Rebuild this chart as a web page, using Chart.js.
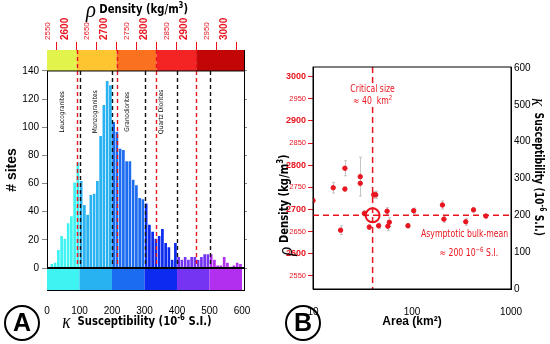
<!DOCTYPE html>
<html>
<head>
<meta charset="utf-8">
<script src="https://cdn.jsdelivr.net/npm/chart.js@4.4.1/dist/chart.umd.min.js"></script>
<style>
  html, body { margin: 0; padding: 0; background: #fff; }
  #wrap { position: relative; width: 550px; height: 344px; }
  #chartA { position: absolute; left: 0; top: 0; }
  #chartB { position: absolute; left: 275px; top: 0; }
</style>
</head>
<body>
<div id="wrap">
  <canvas id="chartA" width="275" height="344"></canvas>
  <canvas id="chartB" width="275" height="344"></canvas>
</div>
<script>
// ---------- panel A : susceptibility histogram ----------
const binCenters = [5,15,25,35,45,55,65,75,85,95,105,115,125,135,145,155,165,175,185,195,
  205,215,225,235,245,255,265,275,285,295,305,315,325,335,345,355,365,375,385,395,
  405,415,425,435,445,455,465,475,485,495,505,515,525,535,545,555,565,575,585,595];
const siteCounts = [0,3,4,13,23,21,32,37,61,75,
  62,45,38,52,53,62,94,116,133,130,
  104,97,85,84,76,76,63,59,50,49,
  46,31,26,21,23,28,18,15,6,18,
  8,6,8,6,8,8,6,8,10,10,
  10,6,2,2,8,4,1,2,4,3];
const siteTicks = [0,20,40,60,80,100,120,140];
const kappaTicks = [0,100,200,300,400,500,600];
const densityTicks = [2550,2600,2650,2700,2750,2800,2850,2900,2950,3000];
const kappaBandEdges = [0,100,200,300,400,500,600];
const kappaBandColors = ['#3ff3f3','#28b2f2','#1b6cf0','#0b2bef','#7434f2','#b22ff0'];
const densityBandEdges = [2525,2600,2700,2800,2900,3020];
const densityBandColors = ['#e2f44c','#fdc530','#fa7220','#f52424','#c20606'];
const kappaDashes = [100,200,300,400,500];
const densityDashes = [2600,2700,2800,2900];
const rockNames = ['Leucogranites','Monzogranites','Granodiorites','Quartz Diorites'];
const rockKappa = [46,148,246,351];

// ---------- panel B : density vs area ----------
const plutonArea = [10,16,21,21,30,30,41,43,33,37,46,56,59,57,19,91,104,203,210,349,418,557];
const plutonDensity = [2720,2749,2793,2746,2774,2759,2733,2733,2691,2660,2663,2696,2671,2662,2653,2663,2697,2710,2678,2672,2699,2685];
const densityErr = [5,12,17,4,44,0,8,8,6,5,6,8,10,10,10,5,6,9,7,8,5,4];
const areaTicks = [10,100,1000];
const kappaTicksB = [0,100,200,300,400,500,600];
const criticalArea = 40;
const bulkMeanKappa = 200;

// pick a narrow sans if one is installed, otherwise squeeze drawn text a bit
function hasFont(name) {
  const c = document.createElement('canvas').getContext('2d');
  const s = 'abcdefghijklmnopqrstuvwxyz0123456789';
  c.font = '20px monospace';
  const w0 = c.measureText(s).width;
  c.font = `20px "${name}", monospace`;
  return c.measureText(s).width !== w0;
}
const narrowName = ['Liberation Sans Narrow', 'DejaVu Sans Condensed'].find(hasFont);
const NARROW = narrowName ? `"${narrowName}", "Liberation Sans", sans-serif` : '"Liberation Sans", Arial, sans-serif';
const SQUEEZE = narrowName === 'Liberation Sans Narrow' ? 1 : 0.86;
const SERIF = '"Liberation Serif", "DejaVu Serif", serif';
const RED = '#e8141e';
Chart.defaults.font.family = '"Liberation Sans", Arial, sans-serif';
Chart.defaults.color = '#000';

function bandColor(k) {
  for (let i = 0; i < kappaBandColors.length; i++) {
    if (k < kappaBandEdges[i + 1]) return kappaBandColors[i];
  }
  return kappaBandColors[kappaBandColors.length - 1];
}

function setTicks(list) {
  return s => { s.ticks = list.map(v => ({ value: v })); };
}

// draw text made of several font pieces, centred on x,y
function richText(ctx, parts, x, y, rot, bg) {
  ctx.save();
  ctx.translate(x, y);
  ctx.rotate(rot || 0);
  ctx.scale(SQUEEZE, 1);
  ctx.textBaseline = 'middle';
  ctx.textAlign = 'left';
  let w = 0;
  parts.forEach(p => { ctx.font = p.f; w += ctx.measureText(p.t).width; });
  if (bg) {
    ctx.fillStyle = bg;
    ctx.fillRect(-w / 2 - 2, -6, w + 4, 12);
  }
  let cx = -w / 2;
  parts.forEach(p => {
    ctx.font = p.f;
    ctx.fillStyle = p.c || '#000';
    ctx.fillText(p.t, cx, p.dy || 0);
    cx += ctx.measureText(p.t).width;
  });
  ctx.restore();
}

function circleLetter(ctx, x, y, letter) {
  ctx.save();
  ctx.beginPath();
  ctx.arc(x, y, 17, 0, Math.PI * 2);
  ctx.lineWidth = 2;
  ctx.strokeStyle = '#000';
  ctx.stroke();
  ctx.font = 'bold 25px "Liberation Sans", sans-serif';
  ctx.fillStyle = '#000';
  ctx.textAlign = 'center';
  ctx.textBaseline = 'middle';
  ctx.fillText(letter, x, y + 1);
  ctx.restore();
}

function titleParts(sym, symSize, text, sup, tail, size) {
  const s = size || 12;
  return [
    { t: sym, f: `italic ${symSize}px ${SERIF}`, dy: 1 },
    { t: text, f: `bold ${s}px ${NARROW}` },
    { t: sup, f: `bold ${s - 4}px ${NARROW}`, dy: -4 },
    { t: tail, f: `bold ${s}px ${NARROW}` }
  ];
}

const panelA = {
  id: 'panelA',
  beforeDatasetsDraw(chart) {
    const { ctx, chartArea: a, scales } = chart;
    const x = scales.x, xd = scales.xd, y = scales.y;
    const yTop = y.getPixelForValue(siteTicks[siteTicks.length - 1]);
    const yZero = y.getPixelForValue(0);
    ctx.save();
    densityBandColors.forEach((c, i) => {
      const x0 = xd.getPixelForValue(densityBandEdges[i]);
      const x1 = xd.getPixelForValue(densityBandEdges[i + 1]);
      ctx.fillStyle = c;
      ctx.fillRect(x0, a.top, x1 - x0, yTop - a.top);
    });
    kappaBandColors.forEach((c, i) => {
      const x0 = x.getPixelForValue(kappaBandEdges[i]);
      const x1 = x.getPixelForValue(kappaBandEdges[i + 1]);
      ctx.fillStyle = c;
      ctx.fillRect(x0, yZero, x1 - x0, a.bottom - yZero);
    });
    ctx.restore();
  },
  afterDatasetsDraw(chart) {
    const { ctx, chartArea: a, scales } = chart;
    const x = scales.x, xd = scales.xd, y = scales.y;
    const yTop = y.getPixelForValue(siteTicks[siteTicks.length - 1]);
    const yZero = y.getPixelForValue(0);
    ctx.save();
    ctx.lineWidth = 1.4;
    ctx.setLineDash([4, 3]);
    ctx.strokeStyle = '#111';
    kappaDashes.forEach(k => {
      const px = Math.round(x.getPixelForValue(k)) + 0.5;
      ctx.beginPath(); ctx.moveTo(px, yTop); ctx.lineTo(px, yZero); ctx.stroke();
    });
    ctx.strokeStyle = RED;
    densityDashes.forEach(d => {
      const px = Math.round(xd.getPixelForValue(d)) + 0.5;
      ctx.beginPath(); ctx.moveTo(px, a.top); ctx.lineTo(px, yZero); ctx.stroke();
    });
    ctx.setLineDash([]);
    ctx.strokeStyle = '#000';
    ctx.lineWidth = 1;
    ctx.beginPath(); ctx.moveTo(a.left, yTop); ctx.lineTo(a.right, yTop); ctx.stroke();
    ctx.lineWidth = 2;
    ctx.beginPath(); ctx.moveTo(a.left, yZero); ctx.lineTo(a.right, yZero); ctx.stroke();
    // rock type labels
    ctx.fillStyle = '#000';
    ctx.font = `6.5px ${NARROW}`;
    ctx.textAlign = 'center';
    ctx.textBaseline = 'middle';
    rockNames.forEach((n, i) => {
      ctx.save();
      ctx.translate(x.getPixelForValue(rockKappa[i]), y.getPixelForValue(111));
      ctx.rotate(-Math.PI / 2);
      ctx.fillText(n, 0, 0);
      ctx.restore();
    });
    ctx.restore();
  },
  afterDraw(chart) {
    const ctx = chart.ctx;
    richText(ctx, titleParts('ρ', 24, ' Density (kg/m', '3', ')', 13), 137, 10);
    richText(ctx, titleParts('κ', 20, '  Susceptibility (10', '-6', ' S.I.)', 13), 137, 322);
    circleLetter(ctx, 22, 323, 'A');
  }
};

const panelB = {
  id: 'panelB',
  beforeDatasetsDraw(chart) {
    const { ctx, chartArea: a, scales: { x, y, y2 } } = chart;
    ctx.save();
    ctx.strokeStyle = '#c4c4c4';
    ctx.lineWidth = 1;
    plutonArea.forEach((ar, i) => {
      if (!densityErr[i]) return;
      const px = Math.round(x.getPixelForValue(ar)) + 0.5;
      const t = y.getPixelForValue(plutonDensity[i] + densityErr[i]);
      const b = y.getPixelForValue(plutonDensity[i] - densityErr[i]);
      ctx.beginPath();
      ctx.moveTo(px, t); ctx.lineTo(px, b);
      ctx.moveTo(px - 1.5, t); ctx.lineTo(px + 1.5, t);
      ctx.moveTo(px - 1.5, b); ctx.lineTo(px + 1.5, b);
      ctx.stroke();
    });
    const cx = x.getPixelForValue(criticalArea);
    const cy = y2.getPixelForValue(bulkMeanKappa);
    ctx.strokeStyle = RED;
    ctx.lineWidth = 1.5;
    ctx.setLineDash([6, 4]);
    ctx.beginPath(); ctx.moveTo(cx, a.top); ctx.lineTo(cx, a.bottom); ctx.stroke();
    ctx.beginPath(); ctx.moveTo(a.left, cy); ctx.lineTo(a.right, cy); ctx.stroke();
    ctx.restore();
  },
  afterDatasetsDraw(chart) {
    const { ctx, chartArea: a, scales: { x, y, y2 } } = chart;
    const cx = x.getPixelForValue(criticalArea);
    const cy = y2.getPixelForValue(bulkMeanKappa);
    ctx.save();
    ctx.strokeStyle = RED;
    ctx.lineWidth = 2;
    ctx.beginPath(); ctx.arc(cx, cy, 7, 0, Math.PI * 2); ctx.stroke();
    ctx.strokeStyle = '#000';
    ctx.lineWidth = 1;
    ctx.strokeRect(a.left, a.top, a.right - a.left, a.bottom - a.top);
    ctx.restore();
    // annotations
    const f = `10px ${NARROW}`, fs = `7px ${NARROW}`;
    richText(ctx, [{ t: 'Critical size', f, c: RED }], cx, y.getPixelForValue(2972), 0, '#fff');
    richText(ctx, [
      { t: '≈ 40  km', f, c: RED },
      { t: '2', f: fs, c: RED, dy: -3 }
    ], cx, y.getPixelForValue(2945), 0, '#fff');
    richText(ctx, [{ t: 'Asymptotic bulk-mean', f, c: RED }], x.getPixelForValue(340), y.getPixelForValue(2644));
    richText(ctx, [
      { t: '≈ 200 10', f, c: RED },
      { t: '−6', f: fs, c: RED, dy: -3 },
      { t: ' S.I.', f, c: RED }
    ], x.getPixelForValue(375), y.getPixelForValue(2601));
  },
  afterDraw(chart) {
    const ctx = chart.ctx;
    richText(ctx, titleParts('ρ', 22, ' Density (kg/m', '3', ')', 13), 10, 205, -Math.PI / 2);
    richText(ctx, titleParts('κ', 20, '  Susceptibility (10', '-6', ' S.I.)', 12), 263, 167, Math.PI / 2);
    circleLetter(ctx, 28, 323, 'B');
  }
};

const densityFont = c => {
  const v = c.tick ? c.tick.value : 0;
  return v % 100 === 0 ? { size: 10, weight: 'bold' } : { size: 8 };
};

new Chart(document.getElementById('chartA'), {
  type: 'bar',
  data: {
    datasets: [{
      data: binCenters.map((c, i) => ({ x: c, y: siteCounts[i] })),
      backgroundColor: binCenters.map(bandColor),
      borderColor: 'rgba(255,255,255,0.4)',
      borderWidth: 0.6,
      barPercentage: 1,
      categoryPercentage: 1
    }]
  },
  options: {
    responsive: false,
    animation: false,
    plugins: { legend: { display: false }, tooltip: { enabled: false } },
    layout: { padding: 0 },
    scales: {
      x: {
        type: 'linear', position: 'bottom', offset: false, min: 0, max: 606,
        afterBuildTicks: setTicks(kappaTicks),
        afterFit: s => { s.height = 54; },
        grid: { display: false, offset: false },
        border: { color: '#000' },
        ticks: { font: { size: 10 }, padding: 7, maxRotation: 0 }
      },
      xd: {
        type: 'linear', position: 'top', offset: false, min: 2525, max: 3020,
        afterBuildTicks: setTicks(densityTicks),
        afterFit: s => { s.height = 50; },
        grid: { drawOnChartArea: false, offset: false, tickLength: 8, color: RED },
        border: { color: '#000' },
        ticks: {
          minRotation: 90, maxRotation: 90, padding: 2, color: RED,
          font: densityFont, callback: v => String(v)
        }
      },
      y: {
        min: -15.6, max: 154.9,
        afterBuildTicks: setTicks(siteTicks),
        afterFit: s => { s.width = 47; },
        grid: { drawOnChartArea: false, tickLength: 5, color: '#888' },
        border: { color: '#000' },
        ticks: { font: { size: 10 }, padding: 3 },
        title: { display: true, text: '# sites', font: { size: 14, weight: 'bold' } }
      },
      yr: {
        position: 'right', min: -15.6, max: 154.9,
        afterBuildTicks: setTicks(siteTicks),
        afterFit: s => { s.width = 31; },
        grid: { drawOnChartArea: false, tickLength: 3, color: '#888' },
        border: { color: '#000' },
        ticks: { display: false }
      }
    }
  },
  plugins: [panelA]
});

new Chart(document.getElementById('chartB'), {
  type: 'scatter',
  data: {
    datasets: [{
      data: plutonArea.map((ar, i) => ({ x: ar, y: plutonDensity[i] })),
      backgroundColor: RED,
      borderColor: RED,
      pointRadius: 2.2,
      yAxisID: 'y'
    }]
  },
  options: {
    responsive: false,
    animation: false,
    plugins: { legend: { display: false }, tooltip: { enabled: false } },
    layout: { padding: { top: 67 } },
    scales: {
      x: {
        type: 'logarithmic', min: 10, max: 1000,
        afterBuildTicks: setTicks(areaTicks),
        afterFit: s => { s.height = 55; },
        grid: { display: false },
        border: { color: '#000' },
        ticks: { font: { size: 10 }, padding: 9, maxRotation: 0, callback: v => String(v) },
        title: { display: true, text: 'Area (km²)', font: { size: 12, weight: 'bold' }, padding: { top: 0, bottom: 15 } }
      },
      y: {
        min: 2520, max: 3022,
        afterBuildTicks: setTicks(densityTicks),
        afterFit: s => { s.width = 38; },
        grid: { drawOnChartArea: false, tickLength: 5, color: RED },
        border: { color: '#000' },
        ticks: {
          color: RED, padding: 2, callback: v => String(v),
          font: c => (c.tick && c.tick.value % 100 === 0) ? { size: 9, weight: 'bold' } : { size: 7.5 }
        }
      },
      y2: {
        position: 'right', min: 0, max: 603,
        afterBuildTicks: setTicks(kappaTicksB),
        afterFit: s => { s.width = 39; },
        grid: { drawOnChartArea: false, drawTicks: false },
        border: { color: '#000' },
        ticks: { font: { size: 10 }, padding: 3 }
      }
    }
  },
  plugins: [panelB]
});
</script>
</body>
</html>
